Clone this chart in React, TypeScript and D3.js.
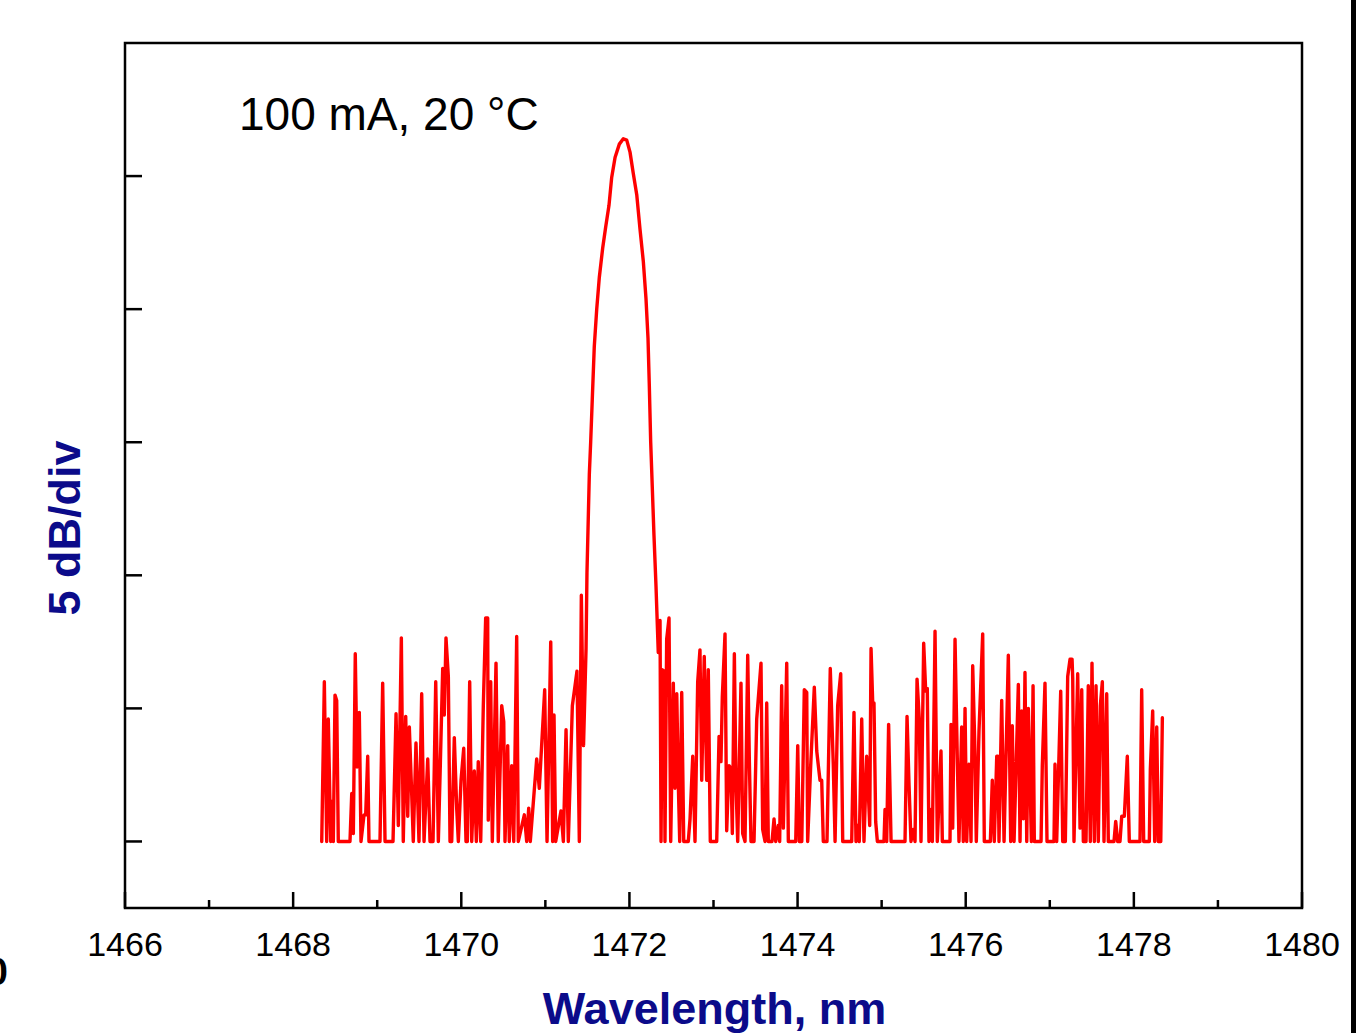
import React, { useEffect, useRef } from "react";
import * as d3 from "d3";

const xMajorTicks = [1466, 1468, 1470, 1472, 1474, 1476, 1478, 1480];
const xMinorTicks = [1467, 1469, 1471, 1473, 1475, 1477, 1479];
const yTicks = [0, 5, 10, 15, 20, 25];

const annotation = "100 mA, 20 °C";
const xTitle = "Wavelength, nm";
const yTitle = "5 dB/div";

// left noise floor (wavelength nm, dB above floor)
const leftNoiseWl = [
  1468.34, 1468.371, 1468.399, 1468.418, 1468.447, 1468.459, 1468.478, 1468.498, 1468.518, 1468.537,
  1468.676, 1468.697, 1468.716, 1468.739, 1468.76, 1468.787, 1468.807, 1468.843, 1468.863, 1468.887,
  1468.902, 1469.033, 1469.065, 1469.093, 1469.188, 1469.224, 1469.251, 1469.287, 1469.31, 1469.339,
  1469.363, 1469.382, 1469.41, 1469.429, 1469.461, 1469.497, 1469.529, 1469.557, 1469.601, 1469.628,
  1469.664, 1469.696, 1469.727, 1469.75, 1469.779, 1469.798, 1469.818, 1469.846, 1469.866, 1469.886,
  1469.917, 1469.946, 1469.965, 1469.997, 1470.029, 1470.056, 1470.072, 1470.1, 1470.124, 1470.155,
  1470.179, 1470.202, 1470.231, 1470.262, 1470.29, 1470.314, 1470.321, 1470.35, 1470.369, 1470.413,
  1470.44, 1470.481, 1470.505, 1470.52, 1470.552, 1470.571, 1470.6, 1470.624, 1470.659, 1470.678,
  1470.75, 1470.778, 1470.802, 1470.821, 1470.897, 1470.928, 1470.992, 1471.02, 1471.064, 1471.087,
  1471.103, 1471.123, 1471.186, 1471.214, 1471.246, 1471.273, 1471.321, 1471.376, 1471.404, 1471.428,
  1471.454,
];
const leftNoiseDb = [
  0, 6.0, 0, 4.6, 0, 1.5, 0, 5.5, 5.3, 0,
  0, 1.8, 0.3, 7.05, 2.8, 4.85, 0, 1.0, 1.0, 3.2,
  0, 0, 5.95, 0, 0, 4.8, 0.6, 7.65, 0, 4.7,
  0.95, 4.3, 1.8, 0, 3.7, 0, 5.55, 0, 3.1, 0,
  0, 6.0, 0, 2.8, 6.5, 4.75, 7.65, 6.2, 0, 0,
  3.9, 1.2, 0, 2.3, 3.5, 0, 0, 6.0, 0, 2.65,
  0, 3.0, 0, 5.1, 8.4, 8.4, 0.8, 6.0, 0, 6.7,
  0, 5.1, 4.5, 0, 3.6, 0, 2.85, 0, 7.7, 0,
  1.0, 0, 1.25, 0, 3.1, 2.0, 5.7, 0, 7.5, 0,
  4.75, 0, 1.15, 0, 4.2, 0, 5.1, 6.4, 0, 9.25,
  3.6,
];

// laser line
const peakWl = [
  1471.484, 1471.495, 1471.523, 1471.539, 1471.558, 1471.582, 1471.611, 1471.642, 1471.682, 1471.718,
  1471.757, 1471.789, 1471.829, 1471.88, 1471.927, 1471.968, 1472.007, 1472.046, 1472.087, 1472.126,
  1472.165, 1472.197, 1472.221, 1472.236, 1472.253, 1472.272, 1472.292, 1472.316, 1472.343,
];
const peakDb = [
  7.25, 10.1, 13.8, 15.0, 16.6, 18.6, 20.0, 21.2, 22.3, 23.1,
  23.9, 24.95, 25.7, 26.2, 26.4, 26.35, 25.9, 25.1, 24.3, 23.0,
  21.8, 20.4, 18.9, 17.2, 15.0, 13.3, 11.5, 9.6, 7.1,
];

// right noise floor
const rightNoiseWl = [
  1472.364, 1472.376, 1472.391, 1472.411, 1472.423, 1472.443, 1472.471, 1472.491, 1472.522, 1472.542,
  1472.563, 1472.582, 1472.598, 1472.622, 1472.646, 1472.7, 1472.721, 1472.753, 1472.78, 1472.812,
  1472.839, 1472.86, 1472.89, 1472.919, 1472.938, 1472.962, 1473.038, 1473.066, 1473.089, 1473.105,
  1473.137, 1473.157, 1473.184, 1473.208, 1473.224, 1473.248, 1473.268, 1473.288, 1473.327, 1473.347,
  1473.375, 1473.407, 1473.426, 1473.446, 1473.482, 1473.514, 1473.565, 1473.585, 1473.613, 1473.633,
  1473.652, 1473.696, 1473.72, 1473.74, 1473.771, 1473.787, 1473.811, 1473.831, 1473.871, 1473.89,
  1473.978, 1474.002, 1474.021, 1474.05, 1474.08, 1474.109, 1474.12, 1474.156, 1474.199, 1474.228,
  1474.247, 1474.267, 1474.287, 1474.306, 1474.35, 1474.389, 1474.425, 1474.446, 1474.477, 1474.513,
  1474.537, 1474.644, 1474.671, 1474.695, 1474.715, 1474.734, 1474.763, 1474.79, 1474.822, 1474.842,
  1474.858, 1474.874, 1474.894, 1474.909, 1474.929, 1474.949, 1475.028, 1475.04, 1475.06, 1475.083,
  1475.112, 1475.278, 1475.302, 1475.326, 1475.349, 1475.377, 1475.397, 1475.421, 1475.448, 1475.468,
  1475.5, 1475.524, 1475.543, 1475.563, 1475.587, 1475.603, 1475.635, 1475.662, 1475.706, 1475.722,
  1475.813, 1475.825, 1475.845, 1475.873, 1475.9, 1475.92, 1475.952, 1475.971, 1475.992, 1476.012,
  1476.039, 1476.063, 1476.083, 1476.107, 1476.126, 1476.158, 1476.202, 1476.221, 1476.293, 1476.316,
  1476.34, 1476.369, 1476.384, 1476.396, 1476.428, 1476.456, 1476.507, 1476.535, 1476.554, 1476.575,
  1476.626, 1476.646, 1476.666, 1476.685, 1476.705, 1476.726, 1476.745, 1476.765, 1476.781, 1476.801,
  1476.816, 1476.896, 1476.911, 1476.943, 1476.967, 1477.05, 1477.062, 1477.082, 1477.13, 1477.154,
  1477.185, 1477.213, 1477.241, 1477.265, 1477.273, 1477.288, 1477.332, 1477.36, 1477.38, 1477.399,
  1477.431, 1477.458, 1477.482, 1477.502, 1477.53, 1477.55, 1477.577, 1477.601, 1477.625, 1477.645,
  1477.677, 1477.696, 1477.764, 1477.784, 1477.808, 1477.835, 1477.856, 1477.887, 1477.922, 1477.946,
  1478.073, 1478.093, 1478.117, 1478.184, 1478.196, 1478.224, 1478.248, 1478.272, 1478.291, 1478.32,
  1478.339,
];
const rightNoiseDb = [
  8.3, 0, 6.45, 6.4, 0, 7.6, 8.4, 0, 5.95, 2.0,
  5.55, 2.1, 0, 5.6, 0, 0, 0.85, 3.2, 0, 6.0,
  7.2, 2.3, 6.95, 2.3, 6.45, 0, 0, 3.95, 3.0, 5.45,
  7.8, 0.4, 2.85, 2.75, 0.3, 7.05, 2.1, 0, 5.95, 0.3,
  0, 7.0, 3.1, 0, 0, 4.6, 6.7, 0.45, 0, 5.2,
  0, 0, 0.85, 0, 0.6, 0, 5.85, 0.5, 6.7, 0,
  0, 3.6, 0, 0, 5.7, 5.6, 0, 2.85, 5.8, 3.4,
  2.85, 2.3, 2.3, 0, 0, 6.5, 2.85, 0, 5.1, 6.3,
  0, 0, 4.85, 0, 0.6, 0, 4.6, 0, 3.2, 1.8,
  0.6, 7.25, 5.2, 5.2, 0.75, 0, 0, 1.2, 0, 4.4,
  0, 0, 4.7, 2.1, 0, 0.45, 0, 6.1, 4.6, 0,
  7.45, 5.65, 5.75, 0, 1.2, 0, 7.9, 0, 3.4, 0,
  0, 4.4, 0.5, 7.6, 3.1, 0, 4.3, 0, 5.0, 0,
  2.9, 0, 6.6, 3.75, 0, 4.15, 7.8, 0, 0, 2.3,
  0, 3.2, 3.2, 0, 5.3, 0, 7.0, 0, 4.35, 0,
  5.9, 0, 4.9, 0.85, 6.35, 0, 5.0, 2.3, 0, 5.85,
  0, 0, 2.85, 5.95, 0, 0, 2.9, 0, 5.65, 0,
  0, 6.2, 6.85, 6.85, 6.1, 0, 6.3, 0.5, 5.7, 0,
  0, 5.85, 0, 6.7, 0, 5.85, 0, 5.1, 6.0, 0,
  5.55, 0, 0, 0.75, 0, 0, 0.95, 0.95, 3.2, 0,
  0, 5.7, 0, 0, 2.7, 4.9, 0, 4.3, 0, 0,
  4.65,
];

const W = 1372;
const H = 1033;
const M = { left: 125, right: 1302, top: 43, bottom: 908 };
const FONT = "'Liberation Sans', Arial, Helvetica, sans-serif";
const NAVY = "#0b0b8a";

export default function App() {
  const ref = useRef<SVGSVGElement>(null);

  useEffect(() => {
    const svg = d3.select(ref.current);
    svg.selectAll("*").remove();

    const x = d3.scaleLinear().domain([1466, 1480]).range([M.left, M.right]);
    const y = d3.scaleLinear().domain([-2.5, 30]).range([M.bottom, M.top]);

    const wl = [...leftNoiseWl, ...peakWl, ...rightNoiseWl];
    const db = [...leftNoiseDb, ...peakDb, ...rightNoiseDb];
    const pts: [number, number][] = wl.map((w, i) => [w, db[i]]);

    const line = d3
      .line<[number, number]>()
      .x((d) => x(d[0]))
      .y((d) => y(d[1]));

    svg
      .append("path")
      .attr("d", line(pts))
      .attr("fill", "none")
      .attr("stroke", "#ff0000")
      .attr("stroke-width", 3.4)
      .attr("stroke-linejoin", "round")
      .attr("stroke-linecap", "round");

    // frame
    svg
      .append("rect")
      .attr("x", M.left)
      .attr("y", M.top)
      .attr("width", M.right - M.left)
      .attr("height", M.bottom - M.top)
      .attr("fill", "none")
      .attr("stroke", "#000")
      .attr("stroke-width", 2.5);

    // x ticks (inward)
    const gx = svg.append("g");
    gx.selectAll("line.maj")
      .data(xMajorTicks)
      .join("line")
      .attr("x1", (d) => x(d))
      .attr("x2", (d) => x(d))
      .attr("y1", M.bottom)
      .attr("y2", M.bottom - 16)
      .attr("stroke", "#000")
      .attr("stroke-width", 2.5);
    gx.selectAll("line.min")
      .data(xMinorTicks)
      .enter()
      .append("line")
      .attr("x1", (d) => x(d))
      .attr("x2", (d) => x(d))
      .attr("y1", M.bottom)
      .attr("y2", M.bottom - 8)
      .attr("stroke", "#000")
      .attr("stroke-width", 2.5);
    gx.selectAll("text")
      .data(xMajorTicks)
      .join("text")
      .attr("x", (d) => x(d))
      .attr("y", 956)
      .attr("text-anchor", "middle")
      .attr("font-family", FONT)
      .attr("font-size", 34)
      .attr("fill", "#000")
      .text((d) => String(d));

    // y ticks (inward, no labels)
    svg
      .append("g")
      .selectAll("line")
      .data(yTicks)
      .join("line")
      .attr("x1", M.left)
      .attr("x2", M.left + 17)
      .attr("y1", (d) => y(d))
      .attr("y2", (d) => y(d))
      .attr("stroke", "#000")
      .attr("stroke-width", 2.5);

    // annotation
    svg
      .append("text")
      .attr("x", 239)
      .attr("y", 130)
      .attr("font-family", FONT)
      .attr("font-size", 46)
      .attr("fill", "#000")
      .text(annotation);

    // axis titles
    svg
      .append("text")
      .attr("x", 714.5)
      .attr("y", 1024)
      .attr("text-anchor", "middle")
      .attr("font-family", FONT)
      .attr("font-weight", "bold")
      .attr("font-size", 45)
      .attr("fill", NAVY)
      .text(xTitle);

    svg
      .append("text")
      .attr("transform", `translate(80, 528) rotate(-90)`)
      .attr("text-anchor", "middle")
      .attr("font-family", FONT)
      .attr("font-weight", "bold")
      .attr("font-size", 45)
      .attr("fill", NAVY)
      .text(yTitle);

    // clipped glyph at left edge (present in the reference)
    svg
      .append("text")
      .attr("x", 8)
      .attr("y", 985)
      .attr("text-anchor", "end")
      .attr("font-family", FONT)
      .attr("font-weight", "bold")
      .attr("font-size", 38)
      .attr("fill", "#000")
      .text("0");

    // right-hand vertical rule
    svg
      .append("line")
      .attr("x1", 1353.5)
      .attr("x2", 1353.5)
      .attr("y1", 0)
      .attr("y2", H)
      .attr("stroke", "#000")
      .attr("stroke-width", 5);
  }, []);

  return (
    <svg
      ref={ref}
      width={W}
      height={H}
      style={{ position: "absolute", left: 0, top: 0, background: "#fff" }}
    />
  );
}
